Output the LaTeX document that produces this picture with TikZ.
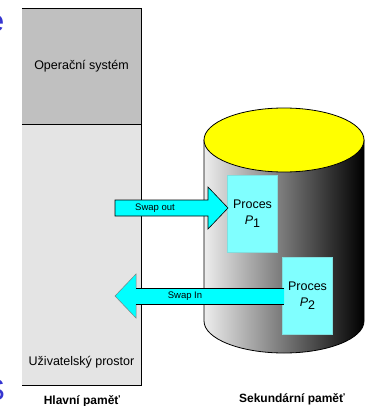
\documentclass[tikz,border=0pt]{standalone}
\usepackage{fontspec}
\setmainfont{Liberation Sans}
\usetikzlibrary{positioning, arrows.meta}
\definecolor{osgrey}{HTML}{C0C0C0}
\definecolor{usergrey}{HTML}{E4E4E4}
\definecolor{proccyan}{HTML}{80FFFF}
\definecolor{swapcyan}{HTML}{00FFFF}
\definecolor{diskyellow}{HTML}{FFFF00}
\definecolor{slideblue}{HTML}{3535D0}

\begin{document}
\begin{tikzpicture}[x=1pt, y=-1pt,
  memblock/.style={inner sep=0pt, minimum width=119pt, font=\fontsize{12.5}{14}\selectfont},
  procbox/.style={fill=proccyan, draw=proccyan!75!gray, line width=0.5pt, minimum width=50pt, minimum height=77pt, align=center, inner sep=0pt, font=\fontsize{12.5}{16}\selectfont},
  swaplabel/.style={inner sep=0pt, font=\fontsize{9.5}{11}\selectfont},
  caption/.style={inner sep=0pt, font=\bfseries\fontsize{12}{14}\selectfont},
  slideletter/.style={anchor=base east, inner sep=0pt, text=slideblue, font=\fontsize{30}{30}\selectfont},
  outline/.style={draw=black, line width=0.8pt}
]
\useasboundingbox (0,0) rectangle (365,406);

% letters of the slide title and body cut off at the left edge
\node[slideletter] (titlee) at (4.5,32) {e};
\node[slideletter] (bodys) at (5,400) {S};

% main memory
\node[memblock, fill=osgrey, minimum height=115pt] (os) at (81.5,66.5) {Operační systém};
\node[memblock, fill=usergrey, minimum height=261pt] (user) at (81.5,254.5) {};
\node[memblock] (userlabel) at (81.5,362) {Uživatelský prostor};
\draw[outline] (os.north west) -- (os.north east) -- (user.south east) -- (user.south west);
\draw[outline] (os.south west) -- (os.south east);
\node[caption] (mainmem) at (82,401) {Hlavní paměť};

% secondary memory (disk)
\path[left color=white!93!black, right color=black, outline]
  (204,140) -- (204,321) arc[start angle=180, end angle=360, x radius=80pt, y radius=32pt] -- (364,140) -- cycle;
\draw[outline, fill=diskyellow] (284,140) ellipse[x radius=80pt, y radius=32pt];
\node[caption] (secmem) at (292,399) {Sekundární paměť};

\node[procbox] (p1) at (252.5,213.5) {Proces\\\textit{P}\raisebox{-0.45ex}{1}};
\node[procbox] (p2) at (307.5,295.5) {Proces\\\textit{P}\raisebox{-0.45ex}{2}};

% swap out
\coordinate (outtip) at (228,208);
\draw[outline, line width=0.6pt, fill=swapcyan]
  (115,200) -- (208,200) -- (208,187) -- (outtip) -- (208,229) -- (208,216) -- (115,216) -- cycle;
\node[swaplabel] (outlabel) at (155,208) {Swap out};

% swap in
\coordinate (intip) at (115,296);
\fill[swapcyan] (intip) -- (136,274) -- (136,288) -- (284,288) -- (284,304) -- (136,304) -- (136,318) -- cycle;
\draw[gray, line width=0.5pt] (136,288) -- (136,274) -- (intip) -- (136,318) -- (136,304);
\draw[black, line width=0.6pt] (136,288) -- (284,288) (136,304) -- (284,304);
\node[swaplabel] (inlabel) at (185,296) {Swap In};
\end{tikzpicture}
\end{document}
